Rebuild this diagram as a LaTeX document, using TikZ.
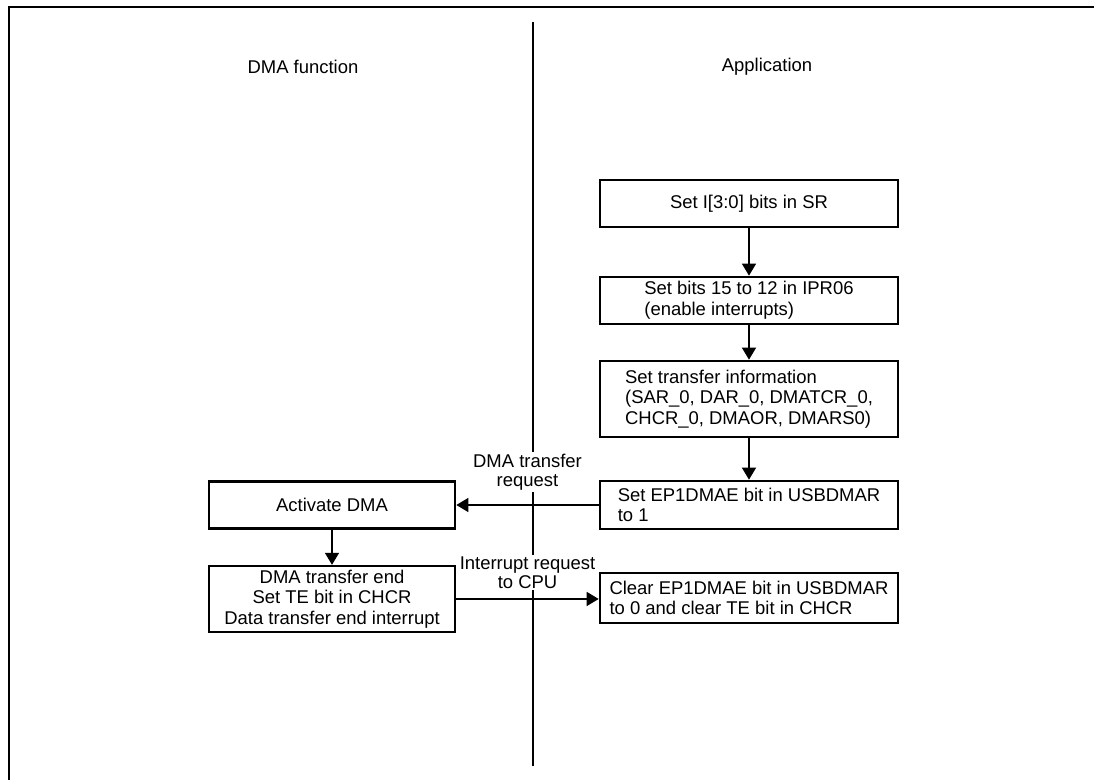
\documentclass[tikz,border=0pt]{standalone}
\usepackage{fontspec}
\setmainfont{Liberation Sans}
\usetikzlibrary{arrows.meta,positioning}

\begin{document}
\begin{tikzpicture}[
    box/.style={draw, line width=1.5pt, inner sep=2pt, font=\fontsize{10.5}{11.8}\selectfont},
    appbox/.style={box, minimum width=5.96cm, align=left},
    dmabox/.style={box, minimum width=4.92cm, align=center},
    flow/.style={-{Triangle[length=0.24cm,width=0.28cm]}, line width=0.8pt},
    lbl/.style={fill=white, inner sep=1pt, align=center, font=\fontsize{10.5}{11}\selectfont},
    head/.style={font=\fontsize{10.5}{12}\selectfont}
]
    % Canvas and frame
    \useasboundingbox (0, 0) rectangle (21.88, 15.6);
    \draw[line width=1.5pt] (0.18, 0) -- (0.18, 15.46) -- (21.88, 15.46);

    % Divider
    \coordinate (divtop) at (10.66, 15.16);
    \coordinate (divbot) at (10.66, 0.28);
    \draw[line width=1.1pt] (divtop) -- (divbot);

    % Column titles
    \node[head] (dmahead) at (6.06, 14.26) {DMA function};
    \node[head] (apphead) at (15.34, 14.26) {Application};

    % Application side
    \node[appbox, minimum height=0.94cm] (setsr) at (14.98, 11.53) {Set I[3:0] bits in SR};
    \node[appbox, minimum height=0.94cm] (setipr) at (14.98, 9.59) {Set bits 15 to 12 in IPR06\\(enable interrupts)};
    \node[appbox, minimum height=1.52cm] (setinfo) at (14.98, 7.62) {Set transfer information\\(SAR\_0, DAR\_0, DMATCR\_0,\\CHCR\_0, DMAOR, DMARS0)};
    \node[appbox, minimum height=0.96cm] (setep) at (14.98, 5.50) {Set EP1DMAE bit in USBDMAR\\to 1};
    \node[appbox, minimum height=1.0cm] (clearep) at (14.98, 3.64) {Clear EP1DMAE bit in USBDMAR\\to 0 and clear TE bit in CHCR};

    % DMA side
    \node[dmabox, minimum height=0.94cm] (activate) at (6.64, 5.50) {Activate DMA};
    \node[dmabox, minimum height=1.28cm] (dmaend) at (6.64, 3.62) {DMA transfer end\\Set TE bit in CHCR\\Data transfer end interrupt};

    % Flow
    \draw[flow] (setsr) -- (setipr);
    \draw[flow] (setipr) -- (setinfo);
    \draw[flow] (setinfo) -- (setep);
    \draw[flow] (setep) -- node[lbl, above=0.24cm] (dmareq) {DMA transfer\\request} (activate);
    \draw[flow] (activate) -- (dmaend);
    \draw[flow] (dmaend.east) -- node[lbl, above=0.16cm] (irq) {Interrupt request\\to CPU} (dmaend.east -| clearep.west);
\end{tikzpicture}
\end{document}
